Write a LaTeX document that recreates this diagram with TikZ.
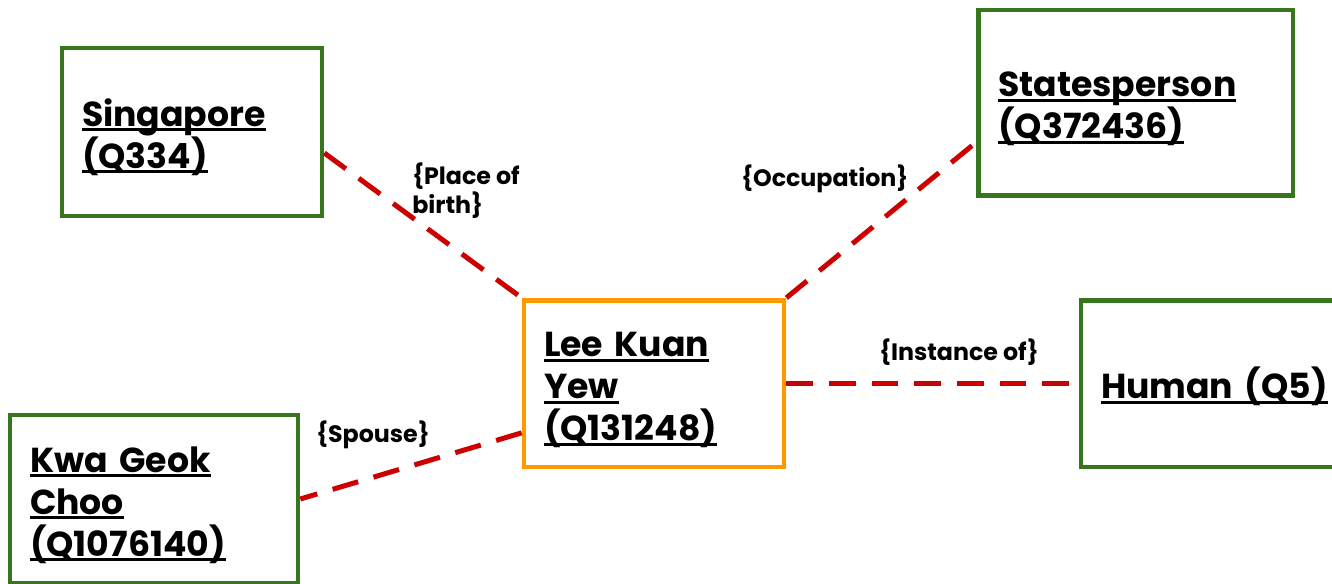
\documentclass[tikz,border=0pt]{standalone}
\usepackage{fontspec}
\setmainfont{Poppins}
\usepackage{tikz}

\definecolor{entgreen}{RGB}{56,118,29}
\definecolor{subjorange}{RGB}{255,153,0}
\definecolor{relred}{RGB}{204,0,0}

% underline each line at a fixed depth
\newcommand{\ulin}[1]{\leavevmode\setbox0\hbox{#1}\rlap{\rule[-4pt]{\wd0}{2.3pt}}\box0}

\begin{document}
\begin{tikzpicture}[x=0.75pt, y=-0.75pt,
    entity/.style={draw=entgreen, line width=3.5pt, fill=white, rectangle,
        inner xsep=15pt, align=left, font=\fontsize{26}{31.5}\selectfont\bfseries,
        execute at begin node={\rule{0pt}{28pt}}},
    subject/.style={entity, draw=subjorange},
    relation/.style={draw=relred, line width=3.75pt, dash pattern=on 20pt off 12pt},
    rellabel/.style={anchor=base west, inner sep=0pt, align=left,
        font=\fontsize{17.8}{20}\selectfont\bfseries}]
            \clip (0, 0) rectangle (1332, 583);
            \node[entity, minimum width=195pt, minimum height=126pt, text width=165pt] (sing) at (192, 132) {\ulin{Singapore}\\\ulin{(Q334)}};
            \node[entity, minimum width=236pt, minimum height=139pt, text width=206pt] (stat) at (1135.5, 102.5) {\ulin{Statesperson}\\\ulin{(Q372436)}};
            \node[subject, minimum width=195pt, minimum height=125pt, text width=165pt] (lky) at (654, 383.5) {\ulin{Lee Kuan}\\\ulin{Yew}\\\ulin{(Q131248)}};
            \node[entity, minimum width=195pt, minimum height=125pt, text width=165pt] (hum) at (1211, 383.5) {\ulin{Human (Q5)}};
            \node[entity, minimum width=216pt, minimum height=126pt, text width=186pt] (kwa) at (154, 499) {\ulin{Kwa Geok}\\\ulin{Choo}\\\ulin{(Q1076140)}};
            \draw[relation] ([yshift=-15.75pt]sing.east) -- (lky.north west);
            \draw[relation] (lky.north east) -- ([yshift=-30pt]stat.west);
            \draw[relation] (lky.east) -- (hum.west);
            \draw[relation] ([yshift=-37pt]lky.west) -- (kwa.east);
            \node[rellabel] (lbirth) at (412, 213) {\{Place of\\birth\}};
            \node[rellabel] (locc) at (741, 186) {\{Occupation\}};
            \node[rellabel] (linst) at (879, 360) {\{Instance of\}};
            \node[rellabel] (lspouse) at (316, 442) {\{Spouse\}};
        \end{tikzpicture}
\end{document}
